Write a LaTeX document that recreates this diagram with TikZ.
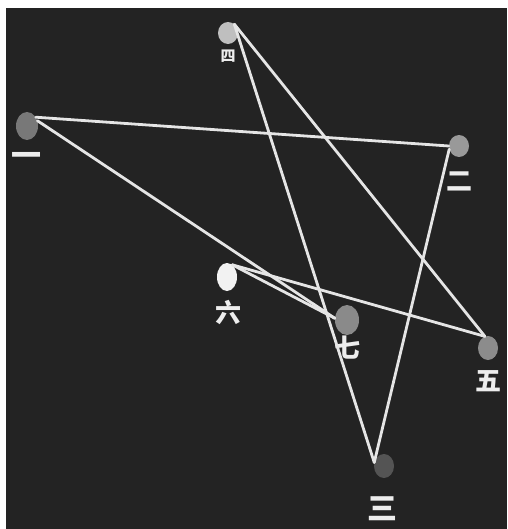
\documentclass[tikz,border=0pt]{standalone}
\usepackage{fontspec}
\newfontfamily\cjk{Noto Sans CJK SC}
\usetikzlibrary{positioning,shapes.geometric}
\definecolor{board}{HTML}{232323}

\begin{document}
\begin{tikzpicture}[
  x=1pt, y=-1pt,
  dot/.style={ellipse, inner sep=0pt, minimum width=20pt, minimum height=24pt},
  numlabel/.style={inner sep=0pt, text=white!93!black, font=\cjk\bfseries\fontsize{26}{26}\selectfont,
                   text height=22.9pt, text depth=3.1pt},
  biglabel/.style={numlabel, font=\cjk\bfseries\fontsize{30}{30}\selectfont,
                   text height=26.4pt, text depth=3.6pt},
  link/.style={draw=white!90!black, line width=2.8pt, line cap=round}
]
\useasboundingbox (0,0) rectangle (507,529);
\fill[board] (6,8) rectangle (507,529);

\node[dot, fill=black!25, minimum height=22pt] (si) at (228,33) {};
\node[dot, fill=black!53, minimum width=22pt, minimum height=28pt] (yi) at (27,126) {};
\node[dot, fill=black!40, minimum height=22pt] (er) at (459,146) {};
\node[dot, fill=white!95!black, minimum height=28pt] (liu) at (227,277) {};
\node[dot, fill=black!46, minimum width=24pt, minimum height=30pt] (qi) at (347,320) {};
\node[dot, fill=black!45] (wu) at (488,348) {};
\node[dot, fill=black!67] (san) at (384,466) {};

\node[biglabel, below=0pt of yi] (yiL) {一};
\node[numlabel, below=10pt of er] (erL) {二};
\node[biglabel, below=15pt of san, xshift=-2pt] (sanL) {三};
\node[numlabel, font=\cjk\bfseries\fontsize{15}{15}\selectfont, text height=13.2pt, text depth=1.8pt,
      below=3.5pt of si] (siL) {四};
\node[numlabel, below=7pt of wu] (wuL) {五};
\node[numlabel, below=8pt of liu, xshift=1pt] (liuL) {六};
\node[numlabel, below=-1pt of qi] (qiL) {七};

\draw[link] (yi.45) -- (er.180);
\draw[link] (er.198) -- (san.160);
\draw[link] (san.160) -- (si.54);
\draw[link] (si.54) -- (wu.105);
\draw[link] (wu.105) -- (liu.67);
\draw[link] (liu.67) -- (qi.172);
\draw[link] (qi.172) -- (yi.27);
\end{tikzpicture}
\end{document}
